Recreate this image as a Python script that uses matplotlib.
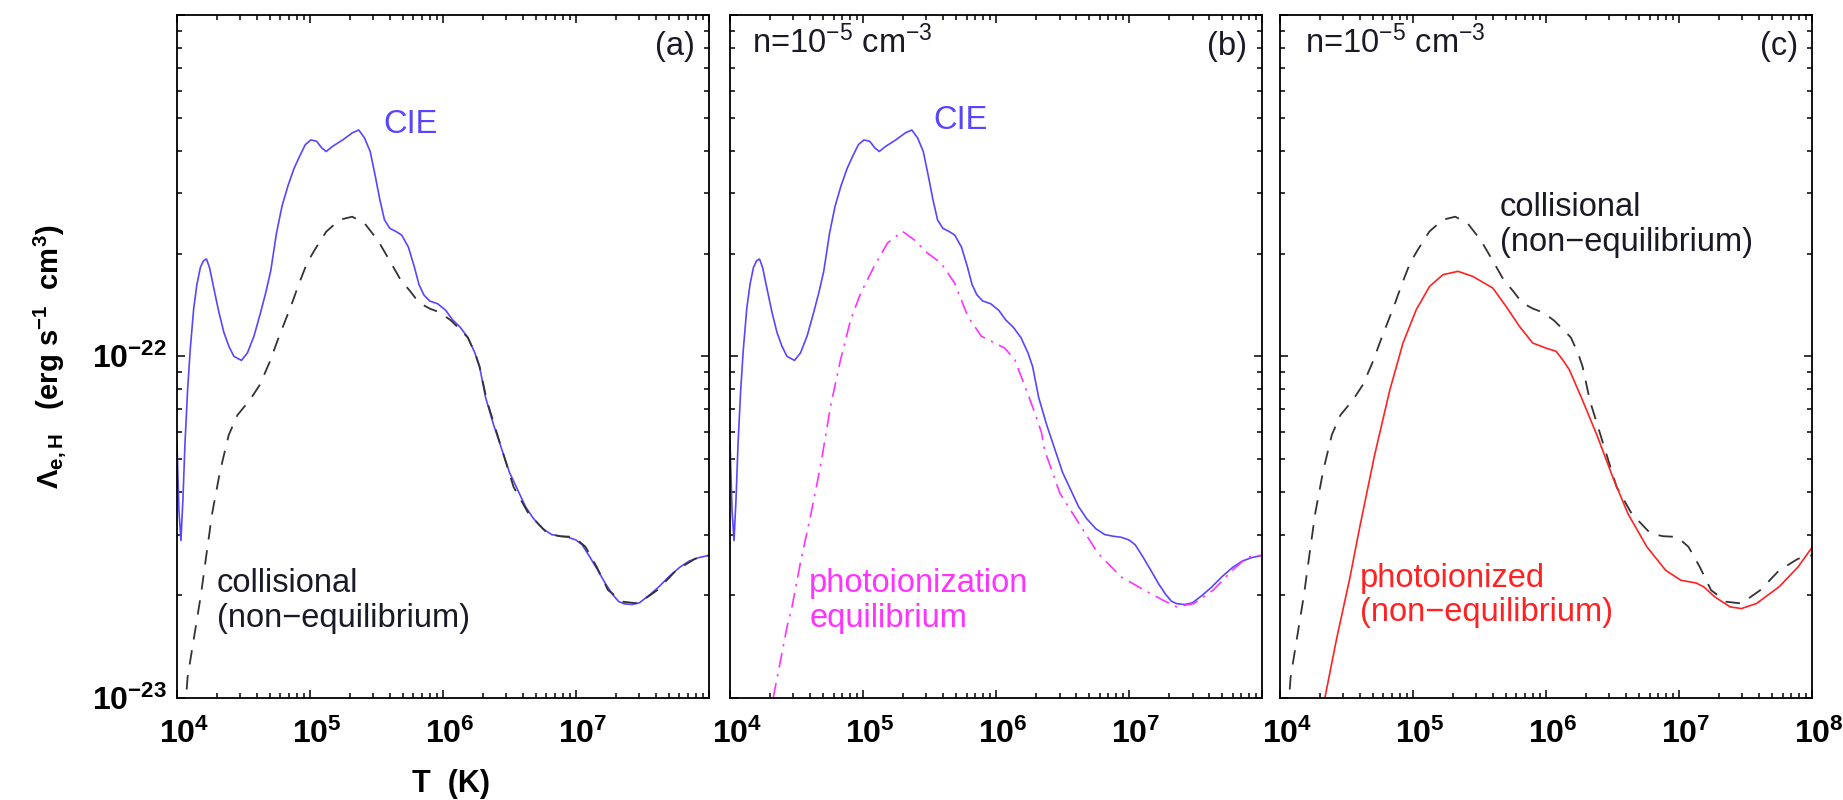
import numpy as np
import matplotlib.pyplot as plt
from matplotlib.ticker import FuncFormatter, LogLocator, NullFormatter
from matplotlib.transforms import ScaledTranslation

plt.rcParams['font.family'] = ['Liberation Sans', 'DejaVu Sans']
plt.rcParams['mathtext.fontset'] = 'custom'
plt.rcParams['mathtext.rm'] = 'Liberation Sans'
plt.rcParams['mathtext.bf'] = 'Liberation Sans:bold'
plt.rcParams['mathtext.it'] = 'Liberation Sans:italic'

# Curvas: log10(T) e log10(Lambda)
cie_logT = [4.000, 4.015, 4.030, 4.045, 4.060, 4.080, 4.100, 4.126, 4.150, 4.176,
            4.200, 4.222, 4.245, 4.277, 4.315, 4.353, 4.390, 4.428, 4.485, 4.530,
            4.580, 4.630, 4.670, 4.705, 4.748, 4.790, 4.835, 4.880, 4.921, 4.965,
            5.007, 5.050, 5.090, 5.122, 5.170, 5.250, 5.320, 5.367, 5.410, 5.453,
            5.490, 5.525, 5.560, 5.600, 5.650, 5.690, 5.740, 5.784, 5.820, 5.856,
            5.900, 5.960, 6.020, 6.072, 6.130, 6.187, 6.240, 6.275, 6.320, 6.380,
            6.440, 6.500, 6.560, 6.620, 6.680, 6.750, 6.816, 6.880, 6.940, 7.000,
            7.046, 7.100, 7.161, 7.220, 7.276, 7.320, 7.362, 7.420, 7.477, 7.550,
            7.621, 7.700, 7.780, 7.850, 7.920, 8.000]
cie_logL = [-22.25, -22.45, -22.54, -22.42, -22.26, -22.10, -21.98, -21.86, -21.79, -21.74,
            -21.72, -21.715, -21.74, -21.80, -21.87, -21.93, -21.97, -22.00, -22.012, -21.99,
            -21.94, -21.87, -21.81, -21.75, -21.64, -21.56, -21.50, -21.45, -21.415, -21.38,
            -21.366, -21.37, -21.39, -21.40, -21.385, -21.365, -21.345, -21.337, -21.36, -21.40,
            -21.47, -21.54, -21.60, -21.625, -21.635, -21.645, -21.68, -21.737, -21.79, -21.82,
            -21.838, -21.846, -21.865, -21.893, -21.915, -21.945, -21.99, -22.03, -22.12, -22.20,
            -22.27, -22.34, -22.39, -22.44, -22.475, -22.505, -22.522, -22.527, -22.530, -22.538,
            -22.552, -22.585, -22.625, -22.665, -22.698, -22.718, -22.725, -22.727, -22.722, -22.700,
            -22.676, -22.645, -22.618, -22.600, -22.590, -22.583]

col_logT = [4.060, 4.080, 4.130, 4.180, 4.222, 4.265, 4.325, 4.390, 4.455, 4.550,
            4.624, 4.699, 4.760, 4.815, 4.860, 4.915, 4.978, 5.036, 5.122, 5.223,
            5.318, 5.410, 5.510, 5.600, 5.680, 5.755, 5.820, 5.900, 5.980, 6.060,
            6.130, 6.187, 6.240, 6.275, 6.330, 6.445, 6.531, 6.644, 6.786, 6.880,
            6.985, 7.071, 7.156, 7.241, 7.355, 7.469, 7.611, 7.753, 7.895, 8.000]
col_logL = [-23.05, -22.94, -22.82, -22.70, -22.58, -22.46, -22.335, -22.23, -22.172, -22.127,
            -22.083, -22.015, -21.95, -21.895, -21.85, -21.79, -21.727, -21.688, -21.635, -21.600,
            -21.591, -21.610, -21.660, -21.720, -21.775, -21.810, -21.843, -21.860, -21.872, -21.895,
            -21.922, -21.945, -21.99, -22.03, -22.13, -22.275, -22.383, -22.461, -22.519, -22.527,
            -22.529, -22.558, -22.617, -22.685, -22.719, -22.724, -22.685, -22.627, -22.593, -22.583]

pie_logT = [4.325, 4.351, 4.430, 4.466, 4.529, 4.605, 4.680, 4.756, 4.831, 4.907,
            4.982, 5.083, 5.184, 5.297, 5.385, 5.486, 5.587, 5.688, 5.788, 5.889,
            5.990, 6.065, 6.141, 6.217, 6.292, 6.342, 6.365, 6.481, 6.624, 6.768,
            6.941, 7.114, 7.258, 7.358, 7.488, 7.632, 7.776, 7.891, 7.991]
pie_logL = [-23.00, -22.948, -22.79, -22.734, -22.605, -22.468, -22.322, -22.146, -22.010, -21.893,
            -21.815, -21.737, -21.668, -21.634, -21.659, -21.698, -21.727, -21.785, -21.883, -21.941,
            -21.961, -21.976, -22.010, -22.088, -22.166, -22.224, -22.275, -22.402, -22.490, -22.578,
            -22.646, -22.685, -22.715, -22.734, -22.724, -22.685, -22.627, -22.588, -22.583]

pne_logT = [4.338, 4.425, 4.525, 4.600, 4.711, 4.825, 4.925, 5.025, 5.125, 5.225,
            5.338, 5.450, 5.600, 5.700, 5.800, 5.900, 6.000, 6.075, 6.125, 6.175,
            6.275, 6.388, 6.502, 6.616, 6.758, 6.900, 7.014, 7.128, 7.185, 7.270,
            7.384, 7.469, 7.583, 7.753, 7.895, 8.003]
pne_logL = [-23.00, -22.829, -22.65, -22.50, -22.29, -22.10, -21.961, -21.863, -21.795, -21.761,
            -21.751, -21.766, -21.800, -21.854, -21.912, -21.961, -21.976, -21.985, -22.010, -22.039,
            -22.129, -22.236, -22.354, -22.461, -22.558, -22.627, -22.656, -22.664, -22.675, -22.705,
            -22.734, -22.739, -22.724, -22.675, -22.617, -22.558]

cor_cie = '#5846ff'
cor_col = '#333333'
cor_pie = '#ff33ff'
cor_pne = '#ff2222'
cor_txt = '#1a1a26'
tam_txt = 23.5


def pot(v):
    return 10.0 ** np.array(v)


def formatar_eixos(ax, x_expoentes, y_expoentes):
    ax.set_xscale('log')
    ax.set_yscale('log')
    ax.set_xlim(1e4, 1e8)
    ax.set_ylim(1e-23, 1e-21)
    ax.set_xticks([1e4, 1e5, 1e6, 1e7, 1e8])
    ax.set_yticks([1e-23, 1e-22, 1e-21])
    ax.xaxis.set_minor_locator(LogLocator(base=10, subs=np.arange(2, 10), numticks=20))
    ax.yaxis.set_minor_locator(LogLocator(base=10, subs=np.arange(2, 10), numticks=20))
    ax.xaxis.set_minor_formatter(NullFormatter())
    ax.yaxis.set_minor_formatter(NullFormatter())

    def fx(v, p):
        e = int(round(np.log10(v)))
        return r'$\mathbf{10^{%d}}$' % e if e in x_expoentes else ''

    def fy(v, p):
        e = int(round(np.log10(v)))
        return r'$\mathbf{10^{%d}}$' % e if e in y_expoentes else ''

    ax.xaxis.set_major_formatter(FuncFormatter(fx))
    ax.yaxis.set_major_formatter(FuncFormatter(fy))
    ax.tick_params(which='both', direction='in', top=True, right=True, width=1.1)
    ax.tick_params(which='major', length=6)
    ax.tick_params(which='minor', length=3.5)
    ax.tick_params(axis='x', which='major', labelsize=23, pad=15)
    ax.tick_params(axis='y', which='major', labelsize=23, pad=7)
    # o "10" fica centrado no tick, o expoente sobra para a direita
    desloc = ScaledTranslation(5 / 72, 0, ax.figure.dpi_scale_trans)
    for t in ax.xaxis.get_major_ticks():
        t.label1.set_transform(t.label1.get_transform() + desloc)
    for s in ax.spines.values():
        s.set_linewidth(1.3)


fig = plt.figure(figsize=(18.43, 8), dpi=100)
base, altura, largura = 0.1279, 0.8534, 0.2887
ax_a = fig.add_axes([0.0960, base, largura, altura])
ax_b = fig.add_axes([0.3961, base, largura, altura])
ax_c = fig.add_axes([0.6945, base, largura, altura])

tracejado = (8, 6)
traco_ponto = (9, 4, 1.4, 4)

# (a) CIE e colisional fora do equilíbrio
ax_a.plot(pot(cie_logT), pot(cie_logL), color=cor_cie, lw=1.2)
ax_a.plot(pot(col_logT), pot(col_logL), color=cor_col, lw=1.3, dashes=tracejado)
formatar_eixos(ax_a, [4, 5, 6, 7], [-23, -22])
ax_a.text(10**5.55, 10**-21.32, 'CIE', color=cor_cie, fontsize=tam_txt, ha='left', va='center')
ax_a.text(10**4.30, 10**-22.62, 'collisional\n(non\u2212equilibrium)', color=cor_txt,
          fontsize=tam_txt, ha='left', va='top', linespacing=1.15)
ax_a.text(0.974, 0.977, '(a)', transform=ax_a.transAxes, fontsize=tam_txt, ha='right', va='top',
          color=cor_txt)
ax_a.set_xlabel('T  (K)', fontsize=22, fontweight='bold')
ax_a.xaxis.set_label_coords(0.515, -0.105)
ax_a.set_ylabel(r'$\mathbf{\Lambda_{e,H}}$   (erg s$^{\mathbf{-1}}$  cm$^{\mathbf{3}}$)',
                fontsize=21, fontweight='bold')
ax_a.yaxis.set_label_coords(-0.205, 0.5)

# (b) CIE e equilíbrio de fotoionização
ax_b.plot(pot(cie_logT), pot(cie_logL), color=cor_cie, lw=1.2)
ax_b.plot(pot(pie_logT), pot(pie_logL), color=cor_pie, lw=1.2, dashes=traco_ponto)
formatar_eixos(ax_b, [4, 5, 6, 7], [])
ax_b.text(10**5.53, 10**-21.31, 'CIE', color=cor_cie, fontsize=tam_txt, ha='left', va='center')
ax_b.text(10**4.595, 10**-22.62, 'photoionization\nequilibrium', color=cor_pie,
          fontsize=tam_txt, ha='left', va='top', linespacing=1.15)
ax_b.text(0.972, 0.977, '(b)', transform=ax_b.transAxes, fontsize=tam_txt, ha='right', va='top',
          color=cor_txt)
ax_b.text(0.042, 0.985, r'n=10$^{-5}$ cm$^{-3}$', transform=ax_b.transAxes, fontsize=tam_txt,
          ha='left', va='top', color=cor_txt)

# (c) colisional e fotoionizado fora do equilíbrio
ax_c.plot(pot(col_logT), pot(col_logL), color=cor_col, lw=1.3, dashes=tracejado)
ax_c.plot(pot(pne_logT), pot(pne_logL), color=cor_pne, lw=1.2)
formatar_eixos(ax_c, [4, 5, 6, 7, 8], [])
ax_c.text(10**5.655, 10**-21.52, 'collisional\n(non\u2212equilibrium)', color=cor_txt,
          fontsize=tam_txt, ha='left', va='top', linespacing=1.15)
ax_c.text(10**4.60, 10**-22.605, 'photoionized\n(non\u2212equilibrium)', color=cor_pne,
          fontsize=tam_txt, ha='left', va='top', linespacing=1.15)
ax_c.text(0.974, 0.977, '(c)', transform=ax_c.transAxes, fontsize=tam_txt, ha='right', va='top',
          color=cor_txt)
ax_c.text(0.047, 0.985, r'n=10$^{-5}$ cm$^{-3}$', transform=ax_c.transAxes, fontsize=tam_txt,
          ha='left', va='top', color=cor_txt)

fig.savefig('out.png', dpi=100)
plt.close(fig)
